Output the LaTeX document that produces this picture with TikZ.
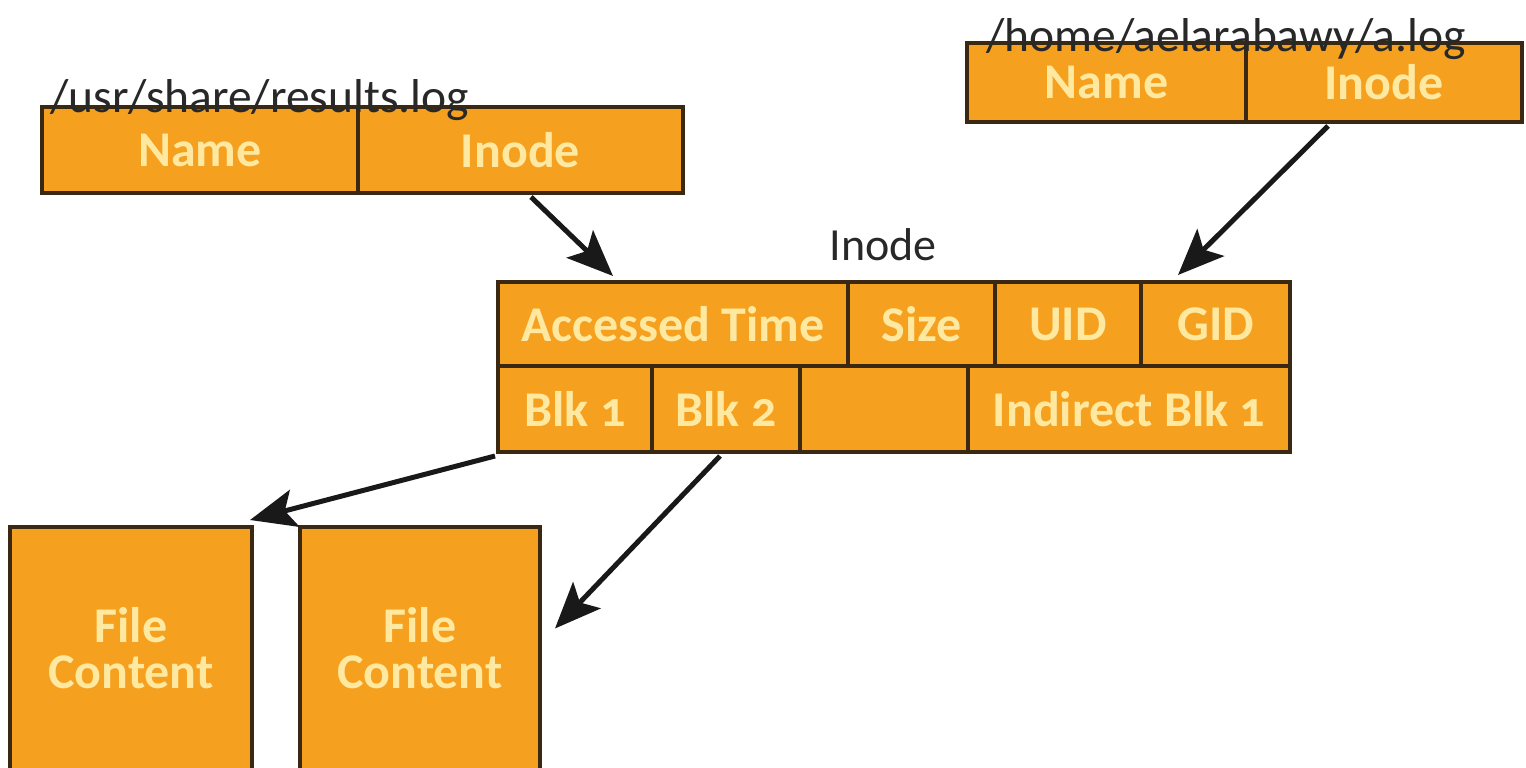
\documentclass[tikz,border=0pt]{standalone}
\usepackage{fontspec}
\setmainfont{Carlito}
\newfontfamily\cellfont[Numbers=OldStyle]{Carlito}
\usetikzlibrary{arrows.meta,calc}
\definecolor{cellfill}{RGB}{245,160,30}
\definecolor{cellline}{RGB}{58,40,16}
\definecolor{celltext}{RGB}{255,232,160}
\definecolor{labelc}{RGB}{40,40,40}
\definecolor{arrowc}{RGB}{25,25,25}
\begin{document}
\begin{tikzpicture}[x=1pt,y=-1pt,
  cell/.style={draw=cellline, line width=4pt, fill=cellfill, text=celltext,
    font=\cellfont\bfseries\fontsize{50}{46}\selectfont, inner sep=0pt, anchor=center, align=center},
  link/.style={draw=arrowc, line width=5pt, -{Stealth[length=46pt,width=38pt,inset=10pt]}},
  pathlabel/.style={text=labelc, font=\fontsize{47.5}{50}\selectfont, inner sep=0pt, anchor=base west},
  title/.style={text=labelc, font=\fontsize{46}{50}\selectfont, inner sep=0pt}]
\useasboundingbox (0,0) rectangle (1526,768);
\fill[white] (0,0) rectangle (1526,768);
% top-left directory entry
\node[cell, minimum width=316pt, minimum height=86pt] (tlname) at (200,150) {Name};
\node[cell, minimum width=325pt, minimum height=86pt] (tlinode) at (520.5,150) {Inode};
% top-right directory entry
\node[cell, minimum width=279pt, minimum height=79pt] (trname) at (1106.5,82.5) {Name};
\node[cell, minimum width=276pt, minimum height=79pt] (trinode) at (1384,82.5) {Inode};
% inode table
\node[title] (ititle) at (883,245) {Inode};
\node[cell, minimum width=350pt, minimum height=84pt] (atime) at (673,324) {Accessed Time};
\node[cell, minimum width=147pt, minimum height=84pt] (size) at (921.5,324) {Size};
\node[cell, minimum width=146pt, minimum height=84pt] (uid) at (1068,324) {UID};
\node[cell, minimum width=149pt, minimum height=84pt] (gid) at (1215.5,324) {GID};
\node[cell, minimum width=154pt, minimum height=86pt] (blk1) at (575,409) {Blk 1};
\node[cell, minimum width=148pt, minimum height=86pt] (blk2) at (726,409) {Blk 2};
\node[cell, minimum width=168pt, minimum height=86pt] (blkx) at (884,409) {};
\node[cell, minimum width=322pt, minimum height=86pt] (ind) at (1129,409) {Indirect Blk 1};
% file content blocks
\node[cell, minimum width=242pt, minimum height=243pt] (file1) at (131,648.5) {File\\Content};
\node[cell, minimum width=240pt, minimum height=243pt] (file2) at (420,648.5) {File\\Content};
% path labels
\node[pathlabel] (p1) at (50,112) {/usr/share/results.log};
\node[pathlabel] (p2) at (986,52) {/home/aelarabawy/a.log};
% arrows
\draw[link] ([xshift=175pt,yshift=-2pt]tlinode.south west) -- ([xshift=117pt,yshift=4pt]atime.north west);
\draw[link] ([xshift=84pt,yshift=-2pt]trinode.south west) -- ([xshift=39pt,yshift=5pt]gid.north west);
\draw[link] ([xshift=-1pt,yshift=-2pt]blk1.south west) -- ([xshift=-4pt,yshift=5pt]file1.north east);
\draw[link] ([xshift=70pt,yshift=-2pt]blk2.south west) -- ([xshift=13pt,yshift=20pt]file2.east);
\end{tikzpicture}
\end{document}
